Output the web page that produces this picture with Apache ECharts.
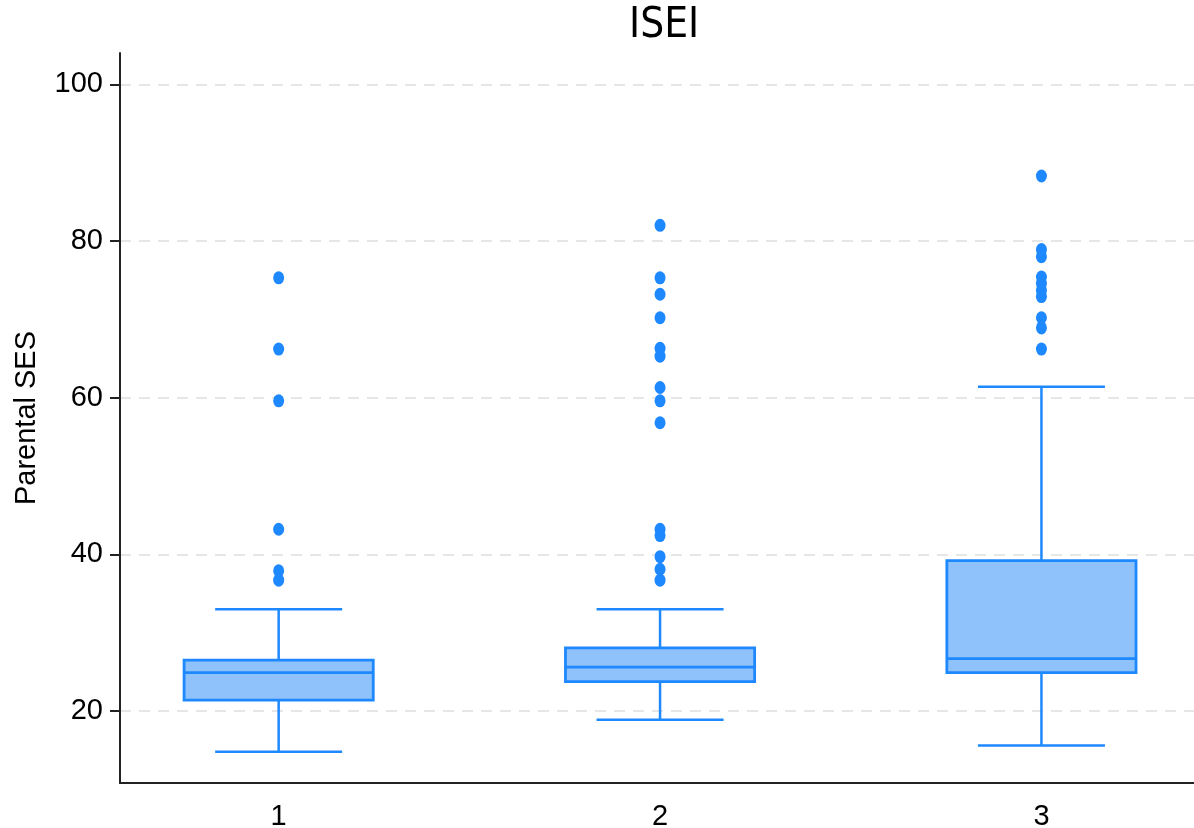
<!DOCTYPE html>
<html><head><meta charset="utf-8">
<script src="https://cdn.jsdelivr.net/npm/echarts@6/dist/echarts.min.js"></script>
<style>html,body{margin:0;padding:0;background:#fff}#c{width:1194px;height:828px}</style>
</head><body><div id="c"></div>
<script>
// ---- data ----
const categories = [1, 2, 3];
const categoryLabels = ['1', '2', '3'];
const lowerWhisker = [14.8, 18.9, 15.6];
const q1 = [21.4, 23.75, 24.9];
const median = [24.9, 25.6, 26.7];
const q3 = [26.5, 28.05, 39.2];
const upperWhisker = [33.0, 33.0, 61.4];
const outliers1 = [75.3, 66.2, 59.6, 43.2, 37.9, 36.7];
const outliers2 = [82.0, 75.3, 73.2, 70.2, 66.3, 65.3, 61.3, 59.6, 56.8, 43.2, 42.4, 39.7, 38.1, 36.7];
const outliers3 = [88.3, 78.9, 78.0, 75.4, 74.6, 73.7, 72.9, 70.2, 68.9, 66.2];
const yTicks = [20, 40, 60, 80, 100];
const titleText = 'ISEI';
const yAxisName = 'Parental SES';

// ---- build ----
const BLUE = '#1E88FF';
const FILL = '#8FC1FB';
const NARROW = "'Liberation Sans Narrow', 'Arial Narrow', 'DejaVu Sans Condensed', sans-serif";
const SANS = "'Liberation Sans', Arial, sans-serif";
const boxData = categories.map((c, i) => [c, lowerWhisker[i], q1[i], median[i], q3[i], upperWhisker[i]]);
const outlierGroups = [outliers1, outliers2, outliers3];
const outlierData = [];
outlierGroups.forEach((arr, i) => arr.forEach(v => outlierData.push([categories[i], v])));

function renderBox(params, api) {
  const x = api.value(0);
  const lo = api.coord([x, api.value(1)]);
  const b1 = api.coord([x, api.value(2)]);
  const md = api.coord([x, api.value(3)]);
  const b3 = api.coord([x, api.value(4)]);
  const hi = api.coord([x, api.value(5)]);
  const boxW = api.size([0.496, 0])[0];
  const capW = api.size([0.333, 0])[0];
  const cx = lo[0];
  const ls = { stroke: BLUE, lineWidth: 2.5, fill: null };
  return {
    type: 'group',
    children: [
      { type: 'line', shape: { x1: cx, y1: lo[1], x2: cx, y2: b1[1] }, style: ls },
      { type: 'line', shape: { x1: cx, y1: b3[1], x2: cx, y2: hi[1] }, style: ls },
      { type: 'line', shape: { x1: cx - capW / 2, y1: lo[1], x2: cx + capW / 2, y2: lo[1] }, style: ls },
      { type: 'line', shape: { x1: cx - capW / 2, y1: hi[1], x2: cx + capW / 2, y2: hi[1] }, style: ls },
      { type: 'rect', shape: { x: cx - boxW / 2, y: b3[1], width: boxW, height: b1[1] - b3[1] },
        style: { fill: FILL, stroke: BLUE, lineWidth: 2.8 } },
      { type: 'line', shape: { x1: cx - boxW / 2, y1: md[1], x2: cx + boxW / 2, y2: md[1] },
        style: { stroke: BLUE, lineWidth: 2.8, fill: null } }
    ]
  };
}

const chart = echarts.init(document.getElementById('c'), null, { renderer: 'canvas' });
chart.setOption({
  animation: false,
  backgroundColor: '#ffffff',
  title: {
    text: titleText, left: 624, top: 0,
    textStyle: { fontFamily: NARROW, fontSize: 42, fontWeight: 'normal', color: '#000' }
  },
  grid: { left: 120, right: 0, top: 53, bottom: 45, containLabel: false, outerBoundsMode: 'none' },
  xAxis: {
    type: 'value', min: 0.584, max: 3.40,
    axisLine: { show: true, onZero: false, lineStyle: { color: '#222', width: 2 } },
    axisTick: { show: false },
    splitLine: { show: false },
    axisLabel: {
      customValues: categories,
      formatter: v => categoryLabels[categories.indexOf(v)],
      fontFamily: SANS, fontSize: 29, color: '#000', margin: 19
    }
  },
  yAxis: {
    type: 'value', min: 10.81, max: 104.0, splitNumber: 5,
    name: yAxisName, nameLocation: 'middle', nameRotate: 90, nameGap: 79,
    nameTextStyle: { fontFamily: SANS, fontSize: 29, color: '#000' },
    axisLine: { show: true, onZero: false, lineStyle: { color: '#222', width: 2 } },
    axisTick: { show: true, customValues: yTicks, length: 10, lineStyle: { color: '#222', width: 2 } },
    axisLabel: { customValues: yTicks, fontFamily: SANS, fontSize: 29, color: '#000', margin: 17 },
    splitLine: {
      show: true, showMinLine: true, showMaxLine: true,
      lineStyle: { color: '#e6e6e6', width: 2, type: [11, 8] }
    }
  },
  series: [
    {
      type: 'custom', name: 'box', renderItem: renderBox,
      encode: { x: 0, y: [1, 2, 3, 4, 5] },
      data: boxData, z: 3
    },
    {
      type: 'scatter', name: 'outliers', data: outlierData,
      symbol: 'circle', symbolSize: [11, 13],
      itemStyle: { color: BLUE, opacity: 1 }, z: 4
    }
  ]
});
</script>
</body></html>
